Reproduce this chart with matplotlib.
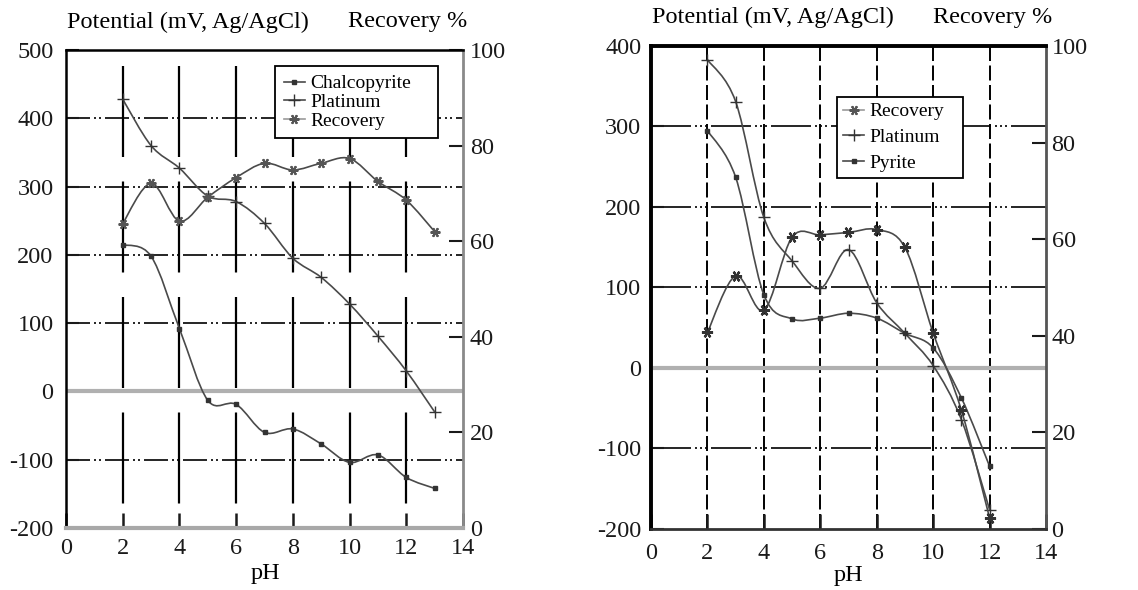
import numpy as np
import matplotlib
matplotlib.use('Agg')
import matplotlib.pyplot as plt
from matplotlib.path import Path
from matplotlib.patches import PathPatch
from matplotlib.lines import Line2D

plt.rcParams['font.family'] = ['Liberation Serif', 'DejaVu Serif']
plt.rcParams['lines.scale_dashes'] = False
plt.rcParams['axes.unicode_minus'] = False

# left chart (chalcopyrite)
ph_a = [2, 3, 4, 5, 6, 7, 8, 9, 10, 11, 12, 13]
chalco_mv = [215, 198, 92, -13, -19, -60, -55, -77, -104, -93, -126, -142]
plat_a_mv = [428, 360, 327, 286, 278, 246, 195, 167, 128, 81, 30, -30]
recov_a = [63.7, 72.1, 64.2, 69.2, 73.3, 76.3, 74.9, 76.3, 77.3, 72.5, 68.6, 62.0]

# right chart (pyrite)
ph_b = [2, 3, 4, 5, 6, 7, 8, 9, 10, 11, 12]
recov_b = [40.7, 52.4, 45.3, 60.4, 60.9, 61.4, 62.0, 58.3, 40.6, 24.6, 2.3]
plat_b_mv = [383, 331, 187, 133, 99, 147, 81, 43, 3, -64, -176]
pyrite_mv = [295, 237, 91, 61, 62, 68, 62, 43, 25, -37, -122]

ph_ticks = [0, 2, 4, 6, 8, 10, 12, 14]
rec_ticks = [0, 20, 40, 60, 80, 100]

W, H = 1138, 590
PX = 0.72  # points per pixel at dpi 100
CURVE = '#4a4a4a'
FS = 17.5


def smooth_path(x, y):
    # excel-like smoothed line (catmull-rom as cubic bezier)
    p = np.column_stack([x, y]).astype(float)
    ext = np.vstack([p[0], p, p[-1]])
    verts = [p[0]]
    codes = [Path.MOVETO]
    for i in range(len(p) - 1):
        p0, p1, p2, p3 = ext[i], ext[i + 1], ext[i + 2], ext[i + 3]
        verts += [p1 + (p2 - p0) / 6, p2 - (p3 - p1) / 6, p2]
        codes += [Path.CURVE4] * 3
    return Path(verts, codes)


def series(ax, x, y, marker, ms, mew=1.0, mc='#333333'):
    ax.add_patch(PathPatch(smooth_path(x, y), fill=False, ec=CURVE, lw=1.2, zorder=4))
    ax.plot(x, y, ls='none', marker=marker, ms=ms, color=mc, mew=mew,
            mfc=mc, zorder=5)


def dashes(seq):
    return [v * PX for v in seq]


def setup(ax, ax2, ylim, yticks, left_pad, right_pad, x_pad):
    ax.set_xlim(0, 14)
    ax.set_ylim(*ylim)
    ax.set_xticks(ph_ticks)
    ax.set_yticks(yticks)
    ax2.set_ylim(0, 100)
    ax2.set_yticks(rec_ticks)
    ax.tick_params(axis='y', direction='in', length=9, width=1.5, labelsize=FS,
                   pad=left_pad, colors='#1a1a1a')
    ax.tick_params(axis='x', direction='in', length=11, width=1.8, labelsize=FS,
                   pad=x_pad, colors='#1a1a1a')
    ax2.tick_params(axis='y', direction='in', length=10, width=1.5, labelsize=FS,
                    pad=right_pad, colors='#1a1a1a')
    ax.set_facecolor('white')
    ax.axhline(0, color='#b0b0b0', lw=3, zorder=2)


def make_legend(ax, handles, labels, bbox, spacing, pad):
    leg = ax.legend(handles, labels, loc='upper left', bbox_to_anchor=bbox,
                    mode='expand', borderaxespad=0, fontsize=14,
                    handlelength=1.1, handletextpad=0.25, labelspacing=spacing,
                    borderpad=pad, fancybox=False, framealpha=1, edgecolor='black')
    leg.get_frame().set_linewidth(1.3)
    leg.set_zorder(10)
    return leg


fig = plt.figure(figsize=(W / 100, H / 100), dpi=100)

# ---------------- left panel ----------------
ax1 = fig.add_axes([66 / W, 1 - 528 / H, 397 / W, 478 / H])
ax1r = ax1.twinx()
setup(ax1, ax1r, (-200, 500), range(-200, 501, 100), 9, 5, 7)

for v in ph_ticks[1:-1]:
    ax1.axvline(v, color='black', lw=1.6, zorder=1,
                ls=(91 * PX, dashes([91, 24.5])))
for v in [-100, 100, 200, 300, 400]:
    ax1.axhline(v, color='black', lw=1.2, zorder=1,
                ls=(0, dashes([24, 4, 2, 3, 2, 4])))

for side, col, lw in [('left', 'black', 1.8), ('top', 'black', 1.8),
                      ('right', '#8a8a8a', 2.0), ('bottom', '#a8a8a8', 3.0)]:
    ax1r.spines[side].set_color(col)
    ax1r.spines[side].set_linewidth(lw)
for s in ax1.spines.values():
    s.set_visible(False)

series(ax1, ph_a, chalco_mv, 's', 3)
series(ax1, ph_a, plat_a_mv, '+', 9, mew=1.0)
series(ax1r, ph_a, recov_a, (6, 2, 90), 7, mew=1.5, mc='#555555')

h1 = [Line2D([], [], color=CURVE, lw=1.2, marker='s', ms=3, mfc='#333333', mec='#333333'),
      Line2D([], [], color=CURVE, lw=1.2, marker='+', ms=9, mec='#333333'),
      Line2D([], [], color='#999999', lw=1.2, marker=(6, 2, 90), ms=7, mew=1.5, mec='#555555')]
make_legend(ax1r, h1, ['Chalcopyrite', 'Platinum', 'Recovery'],
            ((275 - 66) / 397, 0, 163 / 397, (528 - 66) / 478), 0.05, 0.45)

fig.text(67 / W, 1 - 22 / H, 'Potential (mV, Ag/AgCl)', fontsize=FS, va='center', ha='left')
fig.text(348 / W, 1 - 22 / H, 'Recovery %', fontsize=FS, va='center', ha='left')
fig.text(265 / W, 1 - 573 / H, 'pH', fontsize=FS, va='center', ha='center')

# ---------------- right panel ----------------
ax2 = fig.add_axes([651 / W, 1 - 529 / H, 395 / W, 483 / H])
ax2r = ax2.twinx()
setup(ax2, ax2r, (-200, 400), range(-200, 401, 100), 7, 4, 10)

for v in ph_ticks[1:-1]:
    ax2.axvline(v, color='black', lw=1.4, zorder=1, ls=(0, dashes([15, 4.5])))
for v in [-100, 100, 200, 300]:
    ax2.axhline(v, color='black', lw=1.2, zorder=1,
                ls=(0, dashes([40, 4, 2, 3, 2, 3, 2, 4])))

for side, col, lw in [('left', 'black', 2.8), ('top', 'black', 2.8),
                      ('right', '#555555', 2.0), ('bottom', '#333333', 2.0)]:
    ax2r.spines[side].set_color(col)
    ax2r.spines[side].set_linewidth(lw)
for s in ax2.spines.values():
    s.set_visible(False)

series(ax2r, ph_b, recov_b, (6, 2, 90), 8, mew=1.6)
series(ax2, ph_b, plat_b_mv, '+', 9, mew=1.0)
series(ax2, ph_b, pyrite_mv, 's', 3)

h2 = [Line2D([], [], color='#999999', lw=1.2, marker=(6, 2, 90), ms=7, mew=1.5, mec='#555555'),
      Line2D([], [], color=CURVE, lw=1.2, marker='+', ms=9, mec='#333333'),
      Line2D([], [], color=CURVE, lw=1.2, marker='s', ms=3, mfc='#333333', mec='#333333')]
make_legend(ax2r, h2, ['Recovery', 'Platinum', 'Pyrite'],
            ((837 - 651) / 395, 0, 126 / 395, (529 - 97) / 483), 0.42, 0.3)

fig.text(652 / W, 1 - 17 / H, 'Potential (mV, Ag/AgCl)', fontsize=FS, va='center', ha='left')
fig.text(933 / W, 1 - 17 / H, 'Recovery %', fontsize=FS, va='center', ha='left')
fig.text(848 / W, 1 - 575 / H, 'pH', fontsize=FS, va='center', ha='center')

fig.savefig('out.png', dpi=100, facecolor='white')
